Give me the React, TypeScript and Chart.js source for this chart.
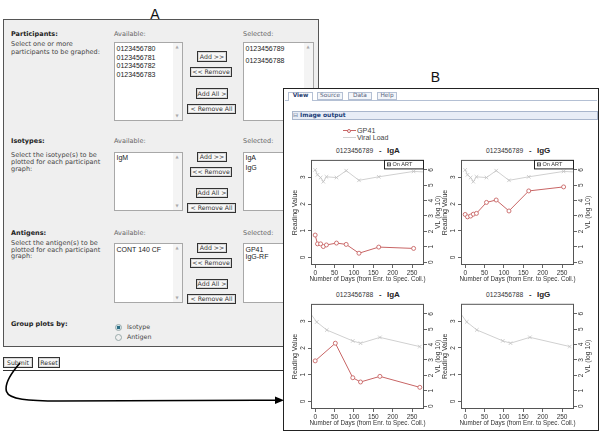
import React, { useEffect, useRef } from "react";
import { Chart, registerables } from "chart.js";
Chart.register(...registerables);

const SANS = '"DejaVu Sans", Verdana, sans-serif';
const ARIAL = '"Liberation Sans", Arial, Helvetica, sans-serif';
const RED = "#c86565";
const GRAY = "#d0d0d0";
const GRAYP = "#c2c2c2";

// ---------- form content ----------
const availableParticipants = ["0123456780", "0123456781", "0123456782", "0123456783"];
const selectedParticipants = ["0123456789", "0123456788"];
const availableIsotypes = ["IgM"];
const selectedIsotypes = ["IgA", "IgG"];
const availableAntigens = ["CONT 140 CF"];
const selectedAntigens = ["GP41", "IgG-RF"];
const buttonLabels = ["Add >>", "<< Remove", "Add All >", "< Remove All"];
const tabs = ["View", "Source", "Data", "Help"];

// ---------- chart content ----------
const seriesNames = ["GP41", "Viral Load"];
const xTicks = [0, 50, 100, 150, 200, 250];
const readingTicks = [0, 1, 2, 3];
const vlTicks = [0, 1, 2, 3, 4, 5, 6];
const xTitle = "Number of Days (from Enr. to Spec. Coll.)";
const yTitle = "Reading Value";
const y2Title = "VL (log 10)";
const onArtLabel = "On ART";

// participant 0123456789
const p1Days = [0, 6, 14, 21, 29, 55, 80, 113, 164, 254];
const p1IgA = [0.84, 0.51, 0.51, 0.41, 0.47, 0.54, 0.49, 0.16, 0.39, 0.34];
const p1IgG = [1.61, 1.52, 1.55, 1.62, 1.65, 2.06, 2.15, 1.74, 2.49, 2.64];
const p1VLDays = [0, 6, 14, 21, 29, 55, 80, 113, 164, 254, 300];
const p1VL = [6.0, 5.68, 5.5, 5.23, 5.55, 5.5, 5.95, 5.32, 5.55, 5.9, 5.84];

// participant 0123456788
const p2Days = [0, 52, 97, 117, 167, 270];
const p2IgA = [1.52, 2.18, 0.89, 0.73, 0.94, 0.53];
const p2VLDays = [-30, 4, 30, 97, 117, 167, 270];
const p2VL = [6.64, 5.47, 4.95, 4.24, 4.09, 4.47, 3.87];

// ---------- helpers ----------
type TP = {
  x: number; yc: number; size: number; font?: string; bold?: boolean;
  color?: string; children: React.ReactNode; center?: boolean;
};
function T({ x, yc, size, font = SANS, bold = false, color = "#333", children, center = false }: TP) {
  return (
    <div
      style={{
        position: "absolute", left: x, top: yc - size / 2, fontFamily: font, fontSize: size,
        lineHeight: `${size}px`, fontWeight: bold ? 700 : 400, color, whiteSpace: "nowrap",
        transform: center ? "translateX(-50%)" : undefined,
      }}
    >
      {children}
    </div>
  );
}

function Rect({ x1, y1, x2, y2, style }: { x1: number; y1: number; x2: number; y2: number; style?: React.CSSProperties }) {
  return (
    <div style={{ position: "absolute", left: x1, top: y1, width: x2 - x1, height: y2 - y1, boxSizing: "border-box", ...style }} />
  );
}

function Btn({ x1, y1, x2, y2, label }: { x1: number; y1: number; x2: number; y2: number; label: string }) {
  return (
    <div
      style={{
        position: "absolute", left: x1, top: y1, width: x2 - x1, height: y2 - y1, boxSizing: "border-box",
        border: "1px solid #333", background: "#f7f7f7", boxShadow: "inset 0 0 0 1px #d8d8d8",
        fontFamily: SANS, fontSize: 6.2, lineHeight: `${y2 - y1 - 2}px`, textAlign: "center",
        color: "#333", whiteSpace: "nowrap",
      }}
    >
      {label}
    </div>
  );
}

function ListBox({ x1, y1, x2, y2, items, first, step }: { x1: number; y1: number; x2: number; y2: number; items: string[]; first: number; step: number }) {
  return (
    <>
      <Rect x1={x1} y1={y1} x2={x2} y2={y2} style={{ background: "#fff", border: "1px solid #a8a8a8" }} />
      <Rect x1={x2 - 10} y1={y1 + 1} x2={x2 - 1} y2={y2 - 1} style={{ background: "#f4f4f4" }} />
      <T x={x2 - 7.5} yc={y1 + 5} size={4} color="#aaa">▲</T>
      <T x={x2 - 7.5} yc={y2 - 5} size={4} color="#aaa">▼</T>
      {items.map((s, i) => (
        <T key={s} x={x1 + 2.5} yc={first + i * step} size={7} font={ARIAL} color="#222">{s}</T>
      ))}
    </>
  );
}

function ButtonGroup({ ys }: { ys: number[][] }) {
  const xs = [[197, 227], [190, 232], [196, 228], [187, 236]];
  return (
    <>
      {buttonLabels.map((l, i) => (
        <Btn key={l} x1={xs[i][0]} x2={xs[i][1]} y1={ys[i][0]} y2={ys[i][1]} label={l} />
      ))}
    </>
  );
}

function Radio({ x, y, on }: { x: number; y: number; on: boolean }) {
  return (
    <div
      style={{
        position: "absolute", left: x - 3.5, top: y - 3.5, width: 7, height: 7, boxSizing: "border-box",
        borderRadius: "50%", border: "1px solid #9aa", background: on ? "radial-gradient(circle, #2d6f86 0 1.6px, #cfe3ea 2px)" : "#f0f0f0",
      }}
    />
  );
}

// ---------- chart plugin: R-style frame, rotated labels ----------
const frame = {
  id: "rframe",
  afterDraw(chart: any, _args: any, opts: any) {
    const { ctx, chartArea: a, scales } = chart;
    ctx.save();
    ctx.strokeStyle = "#555";
    ctx.lineWidth = 1;
    ctx.strokeRect(a.left + 0.5, a.top + 0.5, a.right - a.left - 1, a.bottom - a.top - 1);
    ctx.fillStyle = "#333";
    ctx.textAlign = "center";
    ctx.textBaseline = "middle";
    const rot = (txt: string, x: number, y: number, font: string) => {
      ctx.save();
      ctx.translate(x, y);
      ctx.rotate(-Math.PI / 2);
      ctx.font = font;
      ctx.fillText(txt, 0, 0);
      ctx.restore();
    };
    const tf = `6.5px ${ARIAL}`;
    scales.y.ticks.forEach((t: any) => rot(String(t.value), a.left - 8, scales.y.getPixelForValue(t.value), tf));
    scales.y2.ticks.forEach((t: any) => rot(String(t.value), a.right + 7, scales.y2.getPixelForValue(t.value), tf));
    rot(yTitle, a.left - 15.5, (a.top + a.bottom) / 2, `7px ${ARIAL}`);
    rot(y2Title, a.right + 14.5, (a.top + a.bottom) / 2, `6.8px ${ARIAL}`);
    ctx.font = `6.3px ${ARIAL}`;
    ctx.fillText(xTitle, (a.left + a.right) / 2, a.bottom + 14.5);
    if (opts && opts.onArt) {
      const bx = a.right - 40;
      ctx.fillStyle = "#fff";
      ctx.fillRect(bx, a.top, 40, 9);
      ctx.strokeStyle = "#222";
      ctx.strokeRect(bx + 0.5, a.top + 0.5, 39, 8.5);
      ctx.strokeStyle = "#333";
      ctx.lineWidth = 0.8;
      ctx.strokeRect(bx + 3.5, a.top + 3, 3, 3);
      ctx.fillStyle = "#333";
      ctx.fillRect(bx + 4.5, a.top + 4, 1, 1);
      ctx.textAlign = "left";
      ctx.font = `5.5px ${ARIAL}`;
      ctx.fillText(onArtLabel, bx + 8.5, a.top + 4.8);
    }
    ctx.restore();
  },
};

type PlotProps = {
  left: number; top: number; redDays: number[] | null; redVals: number[] | null;
  vlDays: number[]; vlVals: number[]; onArt: boolean;
};

function Plot({ left, top, redDays, redVals, vlDays, vlVals, onArt }: PlotProps) {
  const ref = useRef<HTMLCanvasElement>(null);
  useEffect(() => {
    const grid = { drawOnChartArea: false, drawTicks: true, tickLength: 3, color: "#666", lineWidth: 1 };
    const datasets: any[] = [];
    if (redDays && redVals) {
      datasets.push({
        label: seriesNames[0],
        data: redDays.map((d, i) => ({ x: d, y: redVals[i] })),
        yAxisID: "y", borderColor: RED, backgroundColor: "#fff", borderWidth: 1,
        pointRadius: 2, pointBorderWidth: 0.9, pointBackgroundColor: "#fff", pointBorderColor: RED, tension: 0,
      });
    }
    datasets.push({
      label: seriesNames[1],
      data: vlDays.map((d, i) => ({ x: d, y: vlVals[i] })),
      yAxisID: "y2", borderColor: GRAY, borderWidth: 1, pointStyle: "crossRot",
      pointRadius: 2.5, pointBorderColor: GRAYP, pointBorderWidth: 0.8, tension: 0,
    });
    const chart = new Chart(ref.current!, {
      type: "line",
      data: { datasets },
      options: {
        animation: false, responsive: false, devicePixelRatio: 1,
        layout: { padding: { top: 4, left: 0, right: 0, bottom: 0 } },
        plugins: { legend: { display: false }, tooltip: { enabled: false }, rframe: { onArt } } as any,
        scales: {
          x: {
            type: "linear", min: -10.8, max: 280.8,
            afterBuildTicks: (s: any) => { s.ticks = xTicks.map((v) => ({ value: v })); },
            afterFit: (s: any) => { s.height = 20; },
            ticks: { autoSkip: false, maxRotation: 0, minRotation: 0, font: { size: 6.5, family: ARIAL }, color: "#333", padding: 1.5 },
            grid, border: { display: false },
          },
          y: {
            type: "linear", position: "left", min: -0.28, max: 3.65,
            afterBuildTicks: (s: any) => { s.ticks = readingTicks.map((v) => ({ value: v })); },
            afterFit: (s: any) => { s.width = 25; },
            ticks: { display: false }, grid, border: { display: false },
          },
          y2: {
            type: "linear", position: "right", min: -0.19, max: 6.65,
            afterBuildTicks: (s: any) => { s.ticks = vlTicks.map((v) => ({ value: v })); },
            afterFit: (s: any) => { s.width = 22; },
            ticks: { display: false }, grid, border: { display: false },
          },
        },
      } as any,
      plugins: [frame],
    });
    return () => chart.destroy();
  }, []);
  return (
    <canvas ref={ref} width={160} height={130}
      style={{ position: "absolute", left, top, width: 160, height: 130, display: "block" }} />
  );
}

function PlotTitle({ x, yc, id, iso }: { x: number; yc: number; id: string; iso: string }) {
  return (
    <>
      <T x={x} yc={yc} size={6.7} font={ARIAL} color="#333">{id}</T>
      <T x={x + 43} yc={yc} size={7.5} font={ARIAL} bold color="#333">-</T>
      <T x={x + 51} yc={yc} size={8} font={ARIAL} bold color="#222">{iso}</T>
    </>
  );
}

export default function App() {
  return (
    <div style={{ position: "absolute", left: 0, top: 0, width: 600, height: 434, background: "#fff", overflow: "hidden" }}>
      {/* ---------- Panel A ---------- */}
      <T x={155} yc={13.5} size={14} font={ARIAL} color="#111" center>A</T>
      <Rect x1={3} y1={19} x2={319} y2={347} style={{ background: "#efefef", border: "1px solid #555" }} />
      <Rect x1={3} y1={369.5} x2={319} y2={371} style={{ background: "#333" }} />

      <T x={11} yc={34} size={6.5} bold color="#222">Participants:</T>
      <T x={114} yc={34} size={6.5} color="#666">Available:</T>
      <T x={243} yc={34} size={6.5} color="#666">Selected:</T>
      <T x={11} yc={44.5} size={6.5} color="#444">Select one or more</T>
      <T x={11} yc={52.5} size={6.5} color="#444">participants to be graphed:</T>
      <ListBox x1={114} y1={42} x2={183} y2={121} items={availableParticipants} first={48.5} step={8.6} />
      <ListBox x1={243} y1={42} x2={314} y2={121} items={selectedParticipants} first={48.8} step={11.2} />
      <ButtonGroup ys={[[51, 62], [67, 77], [88, 99], [104, 114]]} />

      <T x={11} yc={141} size={6.5} bold color="#222">Isotypes:</T>
      <T x={114} yc={141} size={6.5} color="#666">Available:</T>
      <T x={243} yc={141} size={6.5} color="#666">Selected:</T>
      <T x={11} yc={155} size={6.5} color="#444">Select the isotype(s) to be</T>
      <T x={11} yc={162} size={6.5} color="#444">plotted for each participant</T>
      <T x={11} yc={169} size={6.5} color="#444">graph:</T>
      <ListBox x1={114} y1={152} x2={183} y2={211} items={availableIsotypes} first={157} step={9} />
      <ListBox x1={243} y1={152} x2={314} y2={211} items={selectedIsotypes} first={157} step={10} />
      <ButtonGroup ys={[[152, 162], [167, 177], [188, 198], [203, 213]]} />

      <T x={11} yc={233} size={6.5} bold color="#222">Antigens:</T>
      <T x={114} yc={233} size={6.5} color="#666">Available:</T>
      <T x={243} yc={233} size={6.5} color="#666">Selected:</T>
      <T x={11} yc={243.5} size={6.5} color="#444">Select the antigen(s) to be</T>
      <T x={11} yc={250} size={6.5} color="#444">plotted for each participant</T>
      <T x={11} yc={256.5} size={6.5} color="#444">graph:</T>
      <ListBox x1={114} y1={243} x2={183} y2={303} items={availableAntigens} first={249} step={8} />
      <ListBox x1={243} y1={243} x2={314} y2={303} items={selectedAntigens} first={249} step={7.8} />
      <ButtonGroup ys={[[243, 253], [258, 268], [279, 289], [294, 304]]} />

      <T x={11} yc={324} size={6.5} bold color="#222">Group plots by:</T>
      <Radio x={118.5} y={327.5} on />
      <T x={127} yc={327.5} size={6.3} color="#444">Isotype</T>
      <Radio x={118.5} y={337.5} on={false} />
      <T x={127} yc={337.5} size={6.3} color="#444">Antigen</T>

      <Btn x1={3} y1={357} x2={33} y2={368} label="Submit" />
      <Btn x1={38} y1={357} x2={60} y2={368} label="Reset" />

      {/* ---------- Panel B ---------- */}
      <T x={435.5} yc={76.5} size={14} font={ARIAL} color="#111" center>B</T>
      <Rect x1={283} y1={88} x2={598.5} y2={430.5} style={{ background: "#fff", border: "1.3px solid #222" }} />
      <Rect x1={285} y1={100} x2={597} y2={101} style={{ background: "#b4c0d4" }} />
      {tabs.map((t, i) => {
        const xs = [[288, 313], [317, 343], [348, 372], [377, 397]][i];
        const active = i === 0;
        return (
          <React.Fragment key={t}>
            <Rect x1={xs[0]} y1={92} x2={xs[1]} y2={active ? 101 : 100}
              style={{ background: active ? "#fff" : "#f4f6fa", border: "1px solid #b4c0d4", borderBottom: active ? "none" : "1px solid #b4c0d4" }} />
            <T x={(xs[0] + xs[1]) / 2} yc={96.3} size={5.8} bold={active} color={active ? "#1f3a6e" : "#56637c"} center>{t}</T>
          </React.Fragment>
        );
      })}
      <Rect x1={291.5} y1={110.5} x2={598} y2={119.5} style={{ background: "#e8edf6", border: "1px solid #a9b6cc" }} />
      <T x={293} yc={115} size={6} color="#6b7a99">⊟</T>
      <T x={300} yc={115} size={6} bold color="#223f7a">Image output</T>

      {/* legend */}
      <Rect x1={343} y1={130} x2={356} y2={131} style={{ background: RED }} />
      <div style={{ position: "absolute", left: 347, top: 128.5, width: 4, height: 4, boxSizing: "border-box", borderRadius: "50%", border: `1px solid ${RED}`, background: "#fff" }} />
      <T x={357} yc={130.7} size={7.2} font={ARIAL} color="#444">{seriesNames[0]}</T>
      <Rect x1={343} y1={137} x2={356} y2={138} style={{ background: GRAY }} />
      <T x={357} yc={137.5} size={7} font={ARIAL} color="#444">{seriesNames[1]}</T>

      {/* plots */}
      <PlotTitle x={336} yc={151} id={selectedParticipants[0]} iso={selectedIsotypes[0]} />
      <PlotTitle x={486} yc={151} id={selectedParticipants[0]} iso={selectedIsotypes[1]} />
      <PlotTitle x={336} yc={295} id={selectedParticipants[1]} iso={selectedIsotypes[0]} />
      <PlotTitle x={486} yc={295} id={selectedParticipants[1]} iso={selectedIsotypes[1]} />
      <Plot left={286} top={155} redDays={p1Days} redVals={p1IgA} vlDays={p1VLDays} vlVals={p1VL} onArt />
      <Plot left={436} top={155} redDays={p1Days} redVals={p1IgG} vlDays={p1VLDays} vlVals={p1VL} onArt />
      <Plot left={286} top={299} redDays={p2Days} redVals={p2IgA} vlDays={p2VLDays} vlVals={p2VL} onArt={false} />
      <Plot left={436} top={299} redDays={null} redVals={null} vlDays={p2VLDays} vlVals={p2VL} onArt={false} />

      {/* arrow */}
      <svg width={600} height={434} style={{ position: "absolute", left: 0, top: 0, pointerEvents: "none" }}>
        <path d="M 20 363 C 13 371, 4 383, 6.5 391.5 C 9 399.5, 28 401, 60 401 L 276 400.2" fill="none" stroke="#000" strokeWidth={1.6} />
        <polygon points="275,396.4 284,400.2 275,404" fill="#000" />
      </svg>
    </div>
  );
}
